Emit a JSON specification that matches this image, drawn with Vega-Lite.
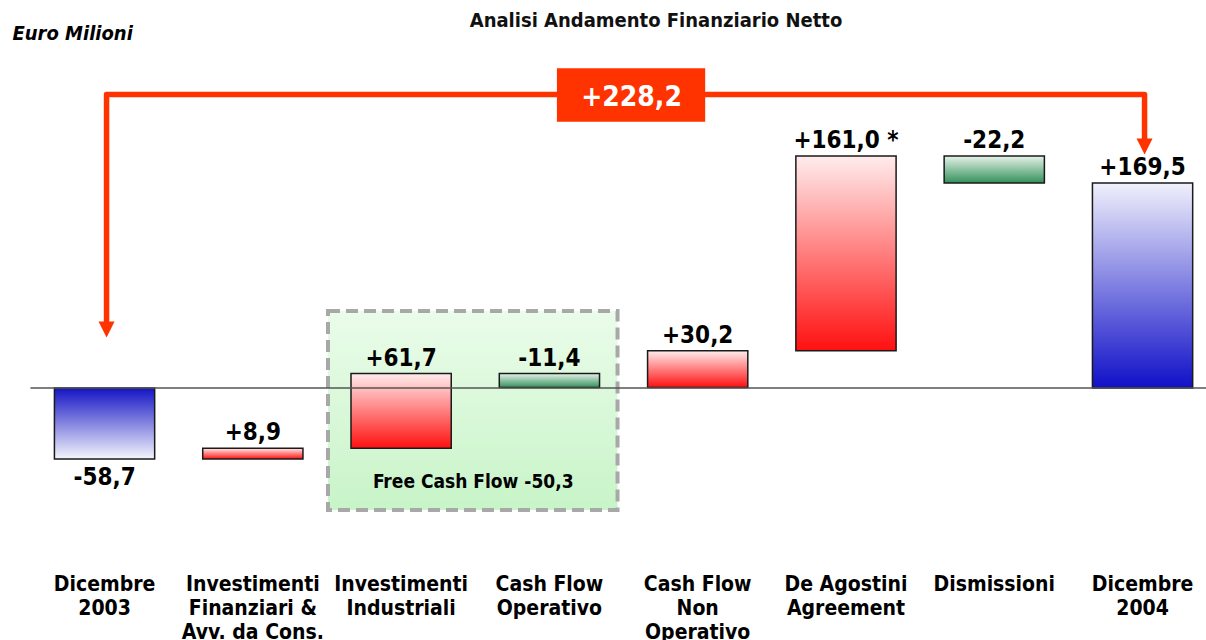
{
  "$schema": "https://vega.github.io/schema/vega-lite/v6.json",
  "width": 1206,
  "height": 520,
  "autosize": {"type": "none"},
  "padding": {"top": 40, "left": 0, "right": 0, "bottom": 80},
  "background": "white",
  "config": {
    "font": "DejaVu Sans Condensed",
    "view": {"stroke": null},
    "axisY": {
      "labels": false,
      "ticks": false,
      "domain": false,
      "grid": false,
      "titleAngle": 0,
      "titleAlign": "left",
      "titleBaseline": "alphabetic",
      "titleX": 12,
      "titleY": -1,
      "titleFontSize": 20,
      "titleFontWeight": "bold",
      "titleFontStyle": "italic",
      "titleColor": "#000000"
    },
    "axisX": {
      "domain": false,
      "ticks": false,
      "grid": false,
      "labelAngle": 0,
      "labelFontSize": 21,
      "labelFontWeight": "bold",
      "labelColor": "#000000",
      "labelLineHeight": 24,
      "labelPadding": 13,
      "labelLimit": 0,
      "labelOverlap": false,
      "labelFlush": false
    }
  },
  "title": {
    "text": "Analisi Andamento Finanziario Netto",
    "anchor": "middle",
    "frame": "group",
    "fontSize": 20,
    "fontWeight": "bold",
    "font": "DejaVu Sans Condensed",
    "color": "#111111",
    "dx": 53,
    "dy": 16,
    "offset": 8
  },
  "datasets": {
    "bars": [
      {"cat": "Dicembre\n2003", "v": 0, "v2": -58.7, "label": "-58,7", "kind": "blueneg"},
      {"cat": "Investimenti\nFinanziari &\nAvv. da Cons.", "v": -58.7, "v2": -49.8, "label": "+8,9", "kind": "red"},
      {"cat": "Investimenti\nIndustriali", "v": -49.8, "v2": 11.9, "label": "+61,7", "kind": "red"},
      {"cat": "Cash Flow\nOperativo", "v": 11.9, "v2": 0.5, "label": "-11,4", "kind": "green"},
      {"cat": "Cash Flow\nNon\nOperativo", "v": 0.5, "v2": 30.7, "label": "+30,2", "kind": "red"},
      {"cat": "De Agostini\nAgreement", "v": 30.7, "v2": 191.7, "label": "+161,0 *", "kind": "red"},
      {"cat": "Dismissioni", "v": 191.7, "v2": 169.5, "label": "-22,2", "kind": "green"},
      {"cat": "Dicembre\n2004", "v": 0, "v2": 169.5, "label": "+169,5", "kind": "bluepos"}
    ],
    "fcf": [
      {"cat": "Investimenti\nIndustriali", "cat2": "Cash Flow\nOperativo", "v": 63.6, "v2": -100.8, "tv": -82.6, "label": "Free Cash Flow -50,3"}
    ],
    "base": [
      {"cat": "Dicembre\n2003", "cat2": "Dicembre\n2004", "v": 0}
    ],
    "arrow": [
      {"cat": "Dicembre\n2003", "v": 48.3, "o": 1},
      {"cat": "Dicembre\n2003", "v": 242.6, "o": 2},
      {"cat": "Dicembre\n2004", "v": 242.6, "o": 3},
      {"cat": "Dicembre\n2004", "v": 199.6, "o": 4}
    ],
    "tips": [
      {"cat": "Dicembre\n2003", "v": 48.3},
      {"cat": "Dicembre\n2004", "v": 199.6}
    ],
    "total": [
      {"cat": "Cash Flow\nOperativo", "cat2": "Cash Flow\nNon\nOperativo", "v": 264.2, "v2": 220.1, "tv": 233.1, "label": "+228,2"}
    ]
  },
  "encoding": {
    "x": {
      "field": "cat",
      "type": "nominal",
      "title": null,
      "scale": {
        "domain": ["Dicembre\n2003", "Investimenti\nFinanziari &\nAvv. da Cons.", "Investimenti\nIndustriali", "Cash Flow\nOperativo", "Cash Flow\nNon\nOperativo", "De Agostini\nAgreement", "Dismissioni", "Dicembre\n2004"],
        "range": [30.4, 1216.7],
        "paddingInner": 0.324,
        "paddingOuter": 0.162
      },
      "axis": {"labelExpr": "split(datum.label, '\\n')"}
    }
  },
  "layer": [
    {
      "data": {"name": "fcf"},
      "mark": {
        "type": "rect",
        "fill": {"gradient": "linear", "x1": 0, "y1": 0, "x2": 0, "y2": 1, "stops": [{"offset": 0, "color": "#EAFCEA"}, {"offset": 1, "color": "#C8F4C8"}]},
        "stroke": "#A8A8A8",
        "strokeWidth": 4,
        "strokeDash": [12, 6],
        "xOffset": -23,
        "x2Offset": 18
      },
      "encoding": {
        "x": {"field": "cat", "type": "nominal", "bandPosition": 0, "title": null},
        "x2": {"field": "cat2", "bandPosition": 1},
        "y": {"field": "v", "type": "quantitative", "title": "Euro Milioni", "scale": {"domain": [-142.15, 287.6], "nice": false, "zero": false}},
        "y2": {"field": "v2"}
      }
    },
    {
      "data": {"name": "bars"},
      "transform": [{"filter": "datum.kind === 'blueneg'"}],
      "mark": {
        "type": "bar",
        "fill": {"gradient": "linear", "x1": 0, "y1": 0, "x2": 0, "y2": 1, "stops": [{"offset": 0, "color": "#1414C4"}, {"offset": 1, "color": "#F5F5FD"}]},
        "stroke": "#1A1A1A",
        "strokeWidth": 1.5
      },
      "encoding": {
        "y": {"field": "v", "type": "quantitative", "title": "Euro Milioni", "scale": {"domain": [-142.15, 287.6], "nice": false, "zero": false}},
        "y2": {"field": "v2"}
      }
    },
    {
      "data": {"name": "bars"},
      "transform": [{"filter": "datum.kind === 'bluepos'"}],
      "mark": {
        "type": "bar",
        "fill": {"gradient": "linear", "x1": 0, "y1": 0, "x2": 0, "y2": 1, "stops": [{"offset": 0, "color": "#F0F0FC"}, {"offset": 1, "color": "#1010C8"}]},
        "stroke": "#1A1A1A",
        "strokeWidth": 1.5
      },
      "encoding": {
        "y": {"field": "v", "type": "quantitative", "title": "Euro Milioni", "scale": {"domain": [-142.15, 287.6], "nice": false, "zero": false}},
        "y2": {"field": "v2"}
      }
    },
    {
      "data": {"name": "bars"},
      "transform": [{"filter": "datum.kind === 'red'"}],
      "mark": {
        "type": "bar",
        "fill": {"gradient": "linear", "x1": 0, "y1": 0, "x2": 0, "y2": 1, "stops": [{"offset": 0, "color": "#FFECEC"}, {"offset": 1, "color": "#FF1010"}]},
        "stroke": "#1A1A1A",
        "strokeWidth": 1.5
      },
      "encoding": {
        "y": {"field": "v", "type": "quantitative", "title": "Euro Milioni", "scale": {"domain": [-142.15, 287.6], "nice": false, "zero": false}},
        "y2": {"field": "v2"}
      }
    },
    {
      "data": {"name": "bars"},
      "transform": [{"filter": "datum.kind === 'green'"}],
      "mark": {
        "type": "bar",
        "fill": {"gradient": "linear", "x1": 0, "y1": 0, "x2": 0, "y2": 1, "stops": [{"offset": 0, "color": "#E6F2EA"}, {"offset": 1, "color": "#33915A"}]},
        "stroke": "#1A1A1A",
        "strokeWidth": 1.5
      },
      "encoding": {
        "y": {"field": "v", "type": "quantitative", "title": "Euro Milioni", "scale": {"domain": [-142.15, 287.6], "nice": false, "zero": false}},
        "y2": {"field": "v2"}
      }
    },
    {
      "data": {"name": "base"},
      "mark": {"type": "rule", "color": "#555555", "strokeWidth": 1.6, "xOffset": -24, "x2Offset": 17},
      "encoding": {
        "x": {"field": "cat", "type": "nominal", "bandPosition": 0, "title": null},
        "x2": {"field": "cat2", "bandPosition": 1},
        "y": {"field": "v", "type": "quantitative", "title": "Euro Milioni", "scale": {"domain": [-142.15, 287.6], "nice": false, "zero": false}}
      }
    },
    {
      "data": {"name": "bars"},
      "transform": [{"filter": "datum.kind === 'red' || datum.kind === 'bluepos'"}],
      "mark": {"type": "text", "fontSize": 24, "fontWeight": "bold", "color": "#000000", "baseline": "alphabetic", "dy": -8},
      "encoding": {
        "y": {"field": "v2", "type": "quantitative", "title": "Euro Milioni", "scale": {"domain": [-142.15, 287.6], "nice": false, "zero": false}},
        "text": {"field": "label"}
      }
    },
    {
      "data": {"name": "bars"},
      "transform": [{"filter": "datum.kind === 'green'"}],
      "mark": {"type": "text", "fontSize": 24, "fontWeight": "bold", "color": "#000000", "baseline": "alphabetic", "dy": -8},
      "encoding": {
        "y": {"field": "v", "type": "quantitative", "title": "Euro Milioni", "scale": {"domain": [-142.15, 287.6], "nice": false, "zero": false}},
        "text": {"field": "label"}
      }
    },
    {
      "data": {"name": "bars"},
      "transform": [{"filter": "datum.kind === 'blueneg'"}],
      "mark": {"type": "text", "fontSize": 24, "fontWeight": "bold", "color": "#000000", "baseline": "alphabetic", "dy": 26},
      "encoding": {
        "y": {"field": "v2", "type": "quantitative", "title": "Euro Milioni", "scale": {"domain": [-142.15, 287.6], "nice": false, "zero": false}},
        "text": {"field": "label"}
      }
    },
    {
      "data": {"name": "fcf"},
      "mark": {"type": "text", "fontSize": 19, "fontWeight": "bold", "color": "#000000", "baseline": "alphabetic", "xOffset": 22},
      "encoding": {
        "x": {"field": "cat", "type": "nominal", "bandPosition": 1, "title": null},
        "y": {"field": "tv", "type": "quantitative", "title": "Euro Milioni", "scale": {"domain": [-142.15, 287.6], "nice": false, "zero": false}},
        "text": {"field": "label"}
      }
    },
    {
      "data": {"name": "arrow"},
      "mark": {"type": "line", "color": "#FF3300", "strokeWidth": 5.5, "strokeJoin": "round", "xOffset": 2},
      "encoding": {
        "y": {"field": "v", "type": "quantitative", "title": "Euro Milioni", "scale": {"domain": [-142.15, 287.6], "nice": false, "zero": false}},
        "order": {"field": "o", "type": "quantitative"}
      }
    },
    {
      "data": {"name": "tips"},
      "mark": {"type": "point", "shape": "M-1,-1L1,-1L0,1Z", "size": 256, "filled": true, "color": "#FF3300", "opacity": 1, "strokeWidth": 0, "xOffset": 2},
      "encoding": {
        "y": {"field": "v", "type": "quantitative", "title": "Euro Milioni", "scale": {"domain": [-142.15, 287.6], "nice": false, "zero": false}}
      }
    },
    {
      "data": {"name": "total"},
      "mark": {"type": "rect", "color": "#FF3300", "xOffset": 7.5, "x2Offset": 7.5},
      "encoding": {
        "x": {"field": "cat", "type": "nominal", "bandPosition": 0.5, "title": null},
        "x2": {"field": "cat2", "bandPosition": 0.5},
        "y": {"field": "v", "type": "quantitative", "title": "Euro Milioni", "scale": {"domain": [-142.15, 287.6], "nice": false, "zero": false}},
        "y2": {"field": "v2"}
      }
    },
    {
      "data": {"name": "total"},
      "mark": {"type": "text", "fontSize": 28, "fontWeight": "bold", "color": "#FFFFFF", "baseline": "alphabetic", "xOffset": 32},
      "encoding": {
        "x": {"field": "cat", "type": "nominal", "bandPosition": 1, "title": null},
        "y": {"field": "tv", "type": "quantitative", "title": "Euro Milioni", "scale": {"domain": [-142.15, 287.6], "nice": false, "zero": false}},
        "text": {"field": "label"}
      }
    }
  ]
}
